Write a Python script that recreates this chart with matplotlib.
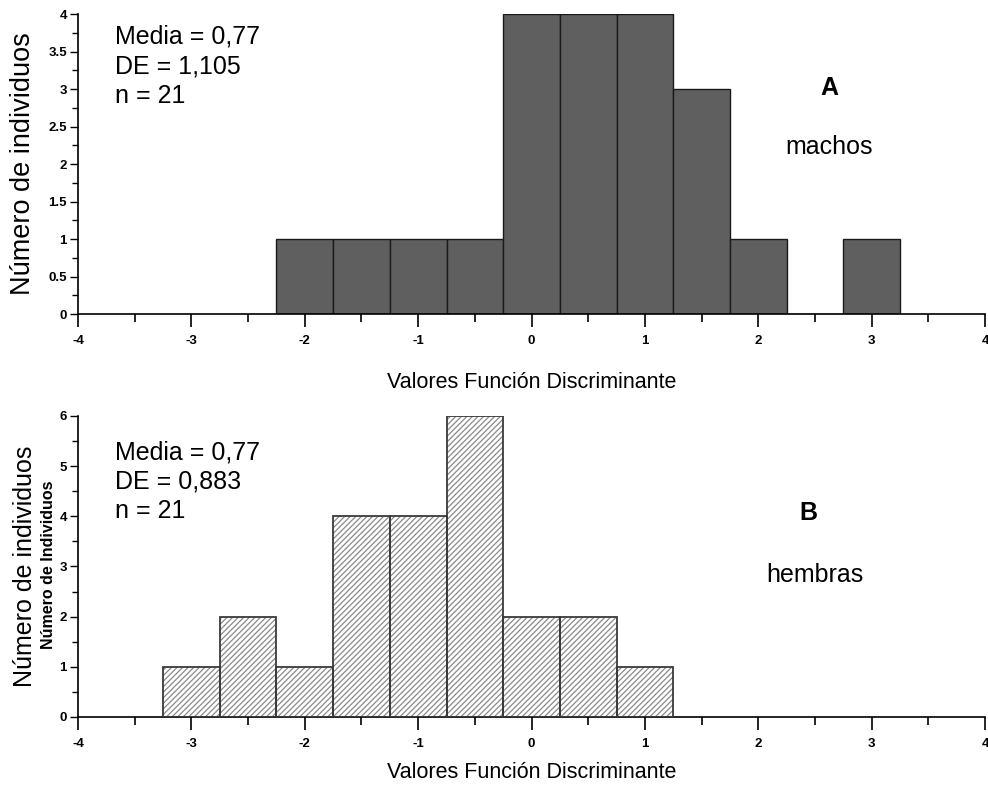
import numpy as np
import matplotlib
matplotlib.use("Agg")
import matplotlib.pyplot as plt
from matplotlib.ticker import MultipleLocator, FuncFormatter

plt.rcParams['font.family'] = ['Liberation Sans', 'DejaVu Sans']
plt.rcParams['hatch.linewidth'] = 0.9
plt.rcParams['axes.unicode_minus'] = False

# ---------------- datos ----------------
centros_machos = [-2.0, -1.5, -1.0, -0.5, 0.0, 0.5, 1.0, 1.5, 2.0, 2.5, 3.0]
conteo_machos = [1, 1, 1, 1, 4, 4, 4, 3, 1, 0, 1]

centros_hembras = [-3.0, -2.5, -2.0, -1.5, -1.0, -0.5, 0.0, 0.5, 1.0]
conteo_hembras = [1, 2, 1, 4, 4, 6, 2, 2, 1]

ancho_bin = 0.5
xticks = [-4, -3, -2, -1, 0, 1, 2, 3, 4]
stats_machos = "Media = 0,77\nDE = 1,105\nn = 21"
stats_hembras = "Media = 0,77\nDE = 0,883\nn = 21"

fig = plt.figure(figsize=(9.88, 7.89), dpi=100)
ax1 = fig.add_axes([0.079, 0.602, 0.918, 0.380])
ax2 = fig.add_axes([0.079, 0.0913, 0.918, 0.3815])

tick_font = dict(family=['Liberation Sans Narrow', 'Liberation Sans'], weight='bold', size=9.5)


def fmt(v, pos):
    return ('%g' % v)


def estilo(ax, ymax, ymaj, ymin, pad_x):
    ax.set_xlim(-4, 4)
    ax.set_ylim(0, ymax)
    for s in ['top', 'right']:
        ax.spines[s].set_visible(False)
    ax.spines['left'].set_linewidth(1.2)
    ax.spines['bottom'].set_linewidth(1.2)
    ax.set_xticks(xticks)
    ax.xaxis.set_minor_locator(MultipleLocator(0.5))
    ax.yaxis.set_major_locator(MultipleLocator(ymaj))
    ax.yaxis.set_minor_locator(MultipleLocator(ymin))
    ax.yaxis.set_major_formatter(FuncFormatter(fmt))
    ax.tick_params(axis='x', which='major', length=9, width=1.2, pad=6)
    ax.tick_params(axis='x', which='minor', length=6, width=1.2)
    ax.tick_params(axis='y', which='major', length=6, width=1.0, pad=2)
    ax.tick_params(axis='y', which='minor', length=4, width=1.0)
    for lab in ax.get_xticklabels() + ax.get_yticklabels():
        lab.set_fontproperties(tick_font)
    ax.set_xlabel("Valores Función Discriminante", fontsize=15.5, labelpad=pad_x)


# ---------------- A: machos ----------------
ax1.bar(centros_machos, conteo_machos, width=ancho_bin, color='#5f5f5f',
        edgecolor='#1a1a1a', linewidth=1.0, zorder=2)
estilo(ax1, 4, 0.5, 0.25, 18)
ax1.set_ylabel("Número de individuos", fontsize=19.5, labelpad=9)
ax1.text(-3.67, 3.86, stats_machos, fontsize=18, va='top', ha='left', linespacing=1.3)
ax1.text(2.63, 3.01, "A", fontsize=18, weight='bold', ha='center', va='center')
ax1.text(2.62, 2.23, "machos", fontsize=18, ha='center', va='center')

# ---------------- B: hembras ----------------
ax2.bar(centros_hembras, conteo_hembras, width=ancho_bin, color='white',
        edgecolor='#8a8a8a', hatch='//////', linewidth=0, zorder=2)
ax2.bar(centros_hembras, conteo_hembras, width=ancho_bin, fill=False,
        edgecolor='#3a3a3a', linewidth=1.3, zorder=3)
estilo(ax2, 6, 1, 0.5, 9)
ax2.set_ylabel("Número de individuos", fontsize=18, labelpad=16)
fig.text(0.049, 0.284, "Número de Individuos", rotation=90, fontsize=11.5,
         weight='bold', ha='center', va='center')
ax2.text(-3.67, 5.52, stats_hembras, fontsize=18, va='top', ha='left', linespacing=1.3)
ax2.text(2.44, 4.07, "B", fontsize=18, weight='bold', ha='center', va='center')
ax2.text(2.50, 2.83, "hembras", fontsize=18, ha='center', va='center')

fig.savefig("out.png", dpi=100)
